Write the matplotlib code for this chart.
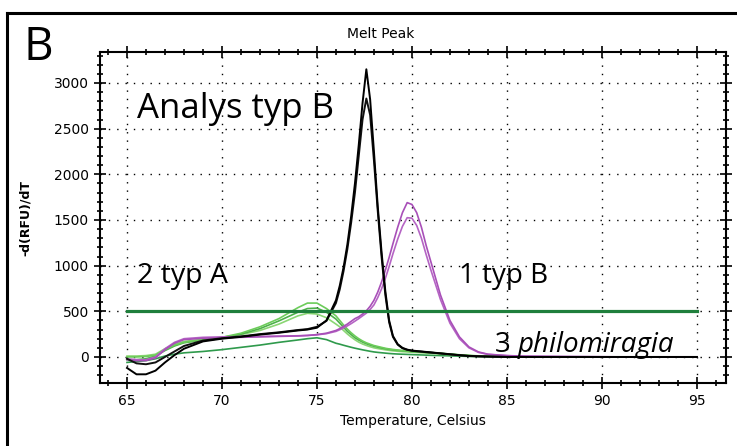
import numpy as np
import matplotlib
matplotlib.use("Agg")
import matplotlib.pyplot as plt
from matplotlib.lines import Line2D
from matplotlib.ticker import MultipleLocator

# Temperature points (Celsius) shared by all melt curves
temps = [65, 65.5, 66, 66.5, 67, 67.5, 68,
         69, 70, 71, 72, 73, 74,
         74.5, 75, 75.5, 76,
         76.2, 76.4, 76.6, 76.8, 77,
         77.2, 77.4, 77.6, 77.8, 78,
         78.2, 78.4, 78.6, 78.8, 79,
         79.25, 79.5, 79.75, 80,
         80.25, 80.5, 80.75, 81,
         81.5, 82, 82.5, 83, 83.5, 84,
         85, 86, 88, 90, 92, 95]

# -d(RFU)/dT values
black_a = [-120, -190, -190, -150, -60, 20, 90,
           170, 200, 220, 245, 265, 290,
           300, 320, 400, 620,
           780, 980, 1230, 1540, 1900,
           2320, 2780, 3150, 2820, 2250,
           1650, 1150, 720, 400, 230,
           140, 100, 80, 70,
           65, 60, 55, 50,
           40, 30, 20, 12, 8, 5,
           0, 0, 0, 0, 0, 0]
black_b = [-20, -70, -80, -60, 0, 60, 120,
           180, 205, 225, 250, 270, 295,
           305, 330, 395, 590,
           740, 940, 1180, 1470, 1800,
           2200, 2600, 2830, 2650, 2150,
           1600, 1100, 680, 380, 220,
           135, 95, 78, 68,
           62, 58, 52, 48,
           38, 28, 18, 10, 6, 4,
           0, 0, 0, 0, 0, 0]
magenta_a = [-30, -40, -40, -10, 80, 150, 190,
             205, 210, 215, 220, 225, 230,
             235, 245, 260, 290,
             310, 335, 360, 390, 420,
             440, 470, 505, 555, 620,
             710, 820, 950, 1090, 1240,
             1420, 1580, 1690, 1670,
             1580, 1420, 1220, 1040,
             680, 400, 220, 110, 55, 30,
             15, 8, 4, 2, 0, 0]
magenta_b = [-20, -30, -30, 0, 90, 160, 200,
             215, 220, 222, 225, 228, 232,
             236, 242, 255, 280,
             298, 318, 340, 365, 392,
             420, 450, 480, 520, 570,
             650, 745, 860, 990, 1130,
             1290, 1430, 1525, 1520,
             1440, 1300, 1120, 950,
             630, 370, 200, 100, 50, 28,
             14, 7, 4, 2, 0, 0]
green_a = [0, 0, 5, 20, 80, 130, 160,
           190, 215, 260, 330, 420, 540,
           590, 590, 530, 450,
           400, 350, 305, 265, 230,
           200, 175, 155, 140, 125,
           115, 105, 95, 88, 82,
           76, 70, 66, 62,
           58, 55, 52, 48,
           40, 32, 24, 17, 12, 8,
           4, 2, 0, 0, 0, 0]
green_b = [-30, -30, -20, 10, 70, 120, 155,
           185, 210, 250, 310, 395, 490,
           530, 535, 490, 415,
           370, 325, 280, 245, 210,
           185, 163, 145, 130, 117,
           107, 98, 90, 83, 77,
           72, 67, 63, 60,
           56, 53, 50, 46,
           38, 30, 22, 15, 10, 6,
           3, 1, 0, 0, 0, 0]
green_c = [10, 10, 15, 30, 90, 140, 170,
           195, 215, 245, 290, 360, 450,
           478, 470, 430, 360,
           330, 290, 252, 218, 188,
           162, 142, 126, 112, 100,
           92, 85, 78, 72, 67,
           62, 58, 55, 52,
           49, 46, 43, 40,
           33, 26, 19, 13, 9, 6,
           3, 1, 0, 0, 0, 0]
green_d = [-60, -50, -40, -20, 10, 30, 45,
           60, 80, 105, 130, 160, 186,
           200, 210, 190, 150,
           140, 128, 117, 106, 96,
           87, 78, 70, 62, 55,
           50, 46, 42, 38, 35,
           32, 30, 28, 26,
           24, 22, 20, 18,
           15, 12, 9, 6, 4, 3,
           1, 0, 0, 0, 0, 0]

# Threshold line
threshold = 500
threshold_range = [65, 95]

# Create the figure and axes
fig = plt.figure(figsize=(7.37, 4.46), dpi=100)
ax = fig.add_axes([0.1357, 0.1413, 0.8493, 0.741])

# Melt curves: greens first, then magenta, then black on top
ax.plot(temps, green_d, color="#2f9a4c", lw=1.2)
ax.plot(temps, green_c, color="#8ad673", lw=1.2)
ax.plot(temps, green_b, color="#4db04a", lw=1.2)
ax.plot(temps, green_a, color="#6ccc5a", lw=1.2)
ax.plot(temps, magenta_b, color="#b564c4", lw=1.2)
ax.plot(temps, magenta_a, color="#a84fb8", lw=1.2)
ax.plot(temps, black_b, color="#111111", lw=1.4)
ax.plot(temps, black_a, color="#000000", lw=1.4)

# Threshold
ax.plot(threshold_range, [threshold, threshold], color="#1f7f3c", lw=2.3, zorder=5)

# Axis limits and ticks
ax.set_xlim(63.58, 96.53)
ax.set_ylim(-285, 3334)
ax.xaxis.set_major_locator(MultipleLocator(5))
ax.xaxis.set_minor_locator(MultipleLocator(1))
ax.yaxis.set_major_locator(MultipleLocator(500))
ax.yaxis.set_minor_locator(MultipleLocator(100))
ax.tick_params(which="both", direction="inout", top=True, right=True,
               labelsize=10, width=1.2, colors="black")
ax.tick_params(which="major", length=9)
ax.tick_params(which="minor", length=5)
for sp in ax.spines.values():
    sp.set_linewidth(1.5)

# Dotted grid on major ticks
ax.grid(True, which="major", color="black", linestyle=(0, (1, 5)), lw=1.0)

# Labels
ax.set_xlabel("Temperature, Celsius", fontsize=10)
ax.set_ylabel("-d(RFU)/dT", fontsize=9, fontweight="bold", labelpad=16)
fig.text(381 / 737, 1 - 34 / 446, "Melt Peak", fontsize=10,
         ha="center", va="center")

# Panel letter and annotations
fig.text(24 / 737, 1 - 60 / 446, "B", fontsize=33, family="Open Sans",
         ha="left", va="baseline")
big = dict(family="Open Sans", ha="left", va="baseline")
ax.text(65.55, 2617, "Analys typ B", fontsize=25, **big)
ax.text(65.55, 810, "2 typ A", fontsize=20.5, **big)
ax.text(82.5, 810, "1 typ B", fontsize=20, **big)
t3 = ax.text(84.35, 55, "3", fontsize=20, **big)
ax.annotate("philomiragia", xy=(1, 0), xycoords=t3, xytext=(5, 0),
            textcoords="offset points", fontsize=20, style="italic",
            family="Open Sans", ha="left", va="bottom")

# Outer frame (top and left edges visible)
fig.add_artist(Line2D([6.5 / 737, 6.5 / 737], [0, 1 - 12.5 / 446],
                      color="black", lw=2.2, transform=fig.transFigure))
fig.add_artist(Line2D([6.5 / 737, 1], [1 - 12.5 / 446, 1 - 12.5 / 446],
                      color="black", lw=2.2, transform=fig.transFigure))

# Save the plot
fig.savefig("out.png", dpi=100)
